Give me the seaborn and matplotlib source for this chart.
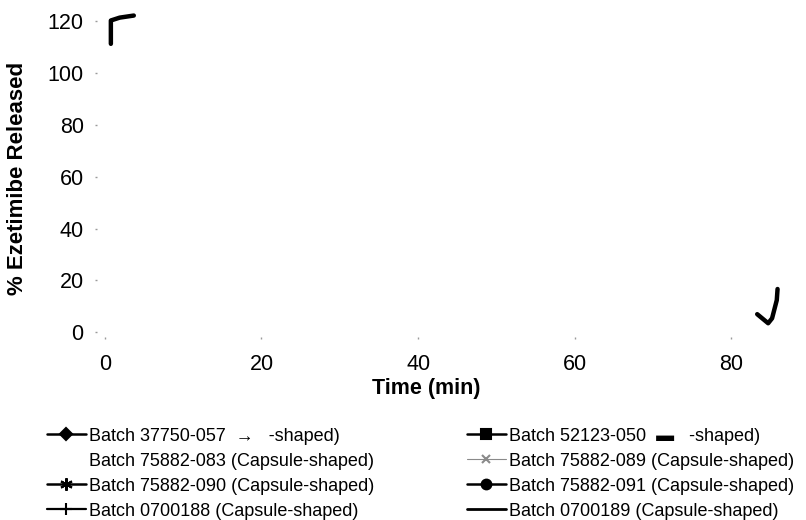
import matplotlib
matplotlib.use("Agg")
import matplotlib.pyplot as plt
from matplotlib.lines import Line2D
import pandas as pd
import seaborn as sns

# Axis ticks
x_ticks = [0, 20, 40, 60, 80]
y_ticks = [0, 20, 40, 60, 80, 100, 120]

# Legend entries (left column first, then right column)
batch_labels = [
    "Batch 37750-057  \u2192   -shaped)",
    "Batch 75882-083 (Capsule-shaped)",
    "Batch 75882-090 (Capsule-shaped)",
    "Batch 0700188 (Capsule-shaped)",
    "Batch 52123-050  \u25ac   -shaped)",
    "Batch 75882-089 (Capsule-shaped)",
    "Batch 75882-091 (Capsule-shaped)",
    "Batch 0700189 (Capsule-shaped)",
]

# Pen strokes drawn over the plot area
stroke_a_time = [0.77, 0.77, 1.9, 3.7]
stroke_a_value = [111.2, 120.2, 121.3, 122.1]
stroke_b_time = [83.3, 84.7, 85.2, 85.8, 85.9]
stroke_b_value = [7.0, 3.5, 5.4, 12.4, 16.7]

# Handle styles
batch_markers = ["D", "None", (6, 2, 0), "+", "s", "x", "o", "None"]
batch_colors = ["black", "none", "black", "black", "black", "#8a8a8a", "black", "black"]
batch_lw = [1.8, 0, 1.8, 1.6, 1.8, 0.8, 1.8, 2.0]
batch_ms = [6, 0, 9, 8, 6.5, 6, 7, 0]

sns.set_theme(style="white")
plt.rcParams["font.family"] = ["Liberation Sans", "DejaVu Sans"]
plt.rcParams["text.color"] = "black"
plt.rcParams["axes.labelcolor"] = "black"
plt.rcParams["xtick.labelcolor"] = "black"
plt.rcParams["ytick.labelcolor"] = "black"

fig = plt.figure(figsize=(8.06, 5.20), dpi=100)
ax = fig.add_axes([97 / 806, (520 - 337) / 520, 697 / 806, 316 / 520])

strokes = pd.DataFrame({
    "time": stroke_a_time + stroke_b_time,
    "value": stroke_a_value + stroke_b_value,
    "stroke": ["a"] * len(stroke_a_time) + ["b"] * len(stroke_b_time),
})
sns.lineplot(data=strokes, x="time", y="value", units="stroke", estimator=None,
             sort=False, color="black", linewidth=3.2, clip_on=False, ax=ax,
             solid_capstyle="round", solid_joinstyle="round", legend=False)

ax.set_xlim(-1, 88)
ax.set_ylim(-1.8, 120)
ax.set_xticks(x_ticks)
ax.set_yticks(y_ticks)
ax.set_xticklabels([str(v) for v in x_ticks], fontsize=15.5)
ax.set_yticklabels([str(v) for v in y_ticks], fontsize=15.5)
ax.tick_params(axis="both", length=1.2, width=1.0, color="#9a9a9a",
               labelcolor="black", direction="out", bottom=True, left=True)
ax.tick_params(axis="x", pad=11.4)
ax.tick_params(axis="y", pad=8.4)
for side in ax.spines.values():
    side.set_visible(False)
ax.grid(False)

ax.set_xlabel("Time (min)", fontsize=15.5, fontweight="bold", color="black")
ax.xaxis.set_label_coords(0.473, -0.163)
ax.xaxis.label.set_va("center")
ax.set_ylabel("% Ezetimibe Released", fontsize=16, fontweight="bold", color="black")
ax.yaxis.set_label_coords(-0.099, 0.503)

handles = [
    Line2D([], [], color=c, marker=m, linewidth=lw, markersize=ms,
           markeredgewidth=1.5, linestyle="-" if lw > 0 else "None")
    for c, m, lw, ms in zip(batch_colors, batch_markers, batch_lw, batch_ms)
]
leg = fig.legend(handles, batch_labels, ncol=2, loc="upper left",
                 bbox_to_anchor=(47 / 806, 0.1775), frameon=False, fontsize=13,
                 handlelength=2.15, handletextpad=0.2, columnspacing=5.1,
                 labelspacing=0.44, borderaxespad=0, borderpad=0)
for t in leg.get_texts():
    t.set_color("black")

fig.savefig("out.png", dpi=100)
